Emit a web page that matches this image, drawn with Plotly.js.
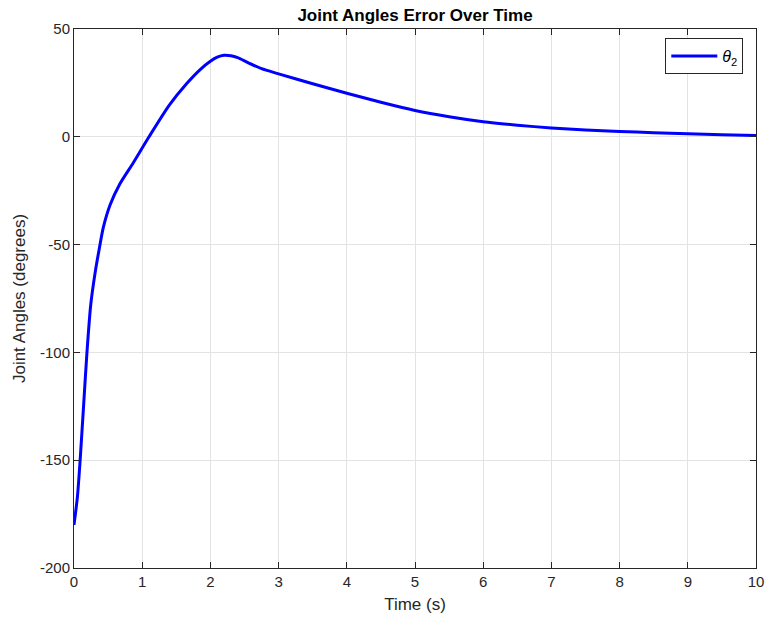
<!DOCTYPE html>
<html>
<head>
<meta charset="utf-8">
<script src="https://cdn.plot.ly/plotly-3.0.1.min.js"></script>
<style>html,body{margin:0;padding:0;background:#fff;}#chart{width:767px;height:619px;}</style>
</head>
<body>
<div id="chart"></div>
<script>
const timeS = [0, 0.05, 0.09, 0.14, 0.19, 0.245, 0.31, 0.37, 0.43, 0.53, 0.67, 0.87, 1.1, 1.4, 1.65, 1.85, 2.0, 2.1, 2.2, 2.3, 2.4, 2.55, 2.75, 3.0, 3.5, 4.0, 4.5, 5.0, 5.5, 6.0, 6.5, 7, 7.5, 8, 8.5, 9, 9.5, 10];
const theta2 = [-180, -167, -150, -125, -100, -78, -63, -52, -42, -31.5, -22, -12, 0, 14.8, 24.6, 31.2, 35.0, 36.9, 37.8, 37.6, 36.7, 34.4, 31.6, 29.2, 24.6, 20.2, 16.0, 12.2, 9.3, 7.0, 5.4, 4.1, 3.2, 2.5, 1.9, 1.4, 1.0, 0.6];
const xTicks = [0,1,2,3,4,5,6,7,8,9,10];
const yTicks = [-200,-150,-100,-50,0,50];

const axCol = '#262626';
const fontFam = 'Liberation Sans, Arial, sans-serif';

const trace = {
  x: timeS, y: theta2, type: 'scatter', mode: 'lines',
  name: '<i>θ</i><sub>2</sub>',
  line: {color: '#0000ff', width: 3, shape: 'spline', smoothing: 0.7}
};

const layout = {
  width: 767, height: 619,
  margin: {l: 74, r: 11, t: 29, b: 51},
  paper_bgcolor: '#fff', plot_bgcolor: '#fff',
  font: {family: fontFam, size: 15, color: axCol},
  title: {text: '<b>Joint Angles Error Over Time</b>', x: 0.5, xref: 'paper', y: 1 - 15/619, yref: 'container', yanchor: 'middle', font: {size: 17, color: '#000'}},
  showlegend: true,
  legend: {x: 0.867, y: 0.983, xanchor: 'left', yanchor: 'top', bgcolor: '#fff', bordercolor: axCol, borderwidth: 1, itemwidth: 46, font: {size: 16, color: '#000'}},
  xaxis: {
    range: [0, 10], tickvals: xTicks, ticktext: xTicks.map(String),
    showgrid: true, gridcolor: '#e3e3e3', gridwidth: 1,
    showline: true, linecolor: axCol, linewidth: 1, mirror: 'ticks',
    ticks: 'inside', ticklen: 6, tickcolor: axCol, zeroline: false,
    tickfont: {size: 15, color: axCol},
    title: {text: 'Time (s)', font: {size: 17, color: axCol}, standoff: 9}
  },
  yaxis: {
    range: [-200, 50], tickvals: yTicks, ticktext: yTicks.map(String),
    showgrid: true, gridcolor: '#e3e3e3', gridwidth: 1,
    showline: true, linecolor: axCol, linewidth: 1, mirror: 'ticks',
    ticks: 'inside', ticklen: 6, tickcolor: axCol, zeroline: false,
    tickfont: {size: 15, color: axCol},
    title: {text: 'Joint Angles (degrees)', font: {size: 17, color: axCol}, standoff: 10}
  }
};

Plotly.newPlot('chart', [trace], layout, {displayModeBar: false, staticPlot: true});
</script>
</body>
</html>
